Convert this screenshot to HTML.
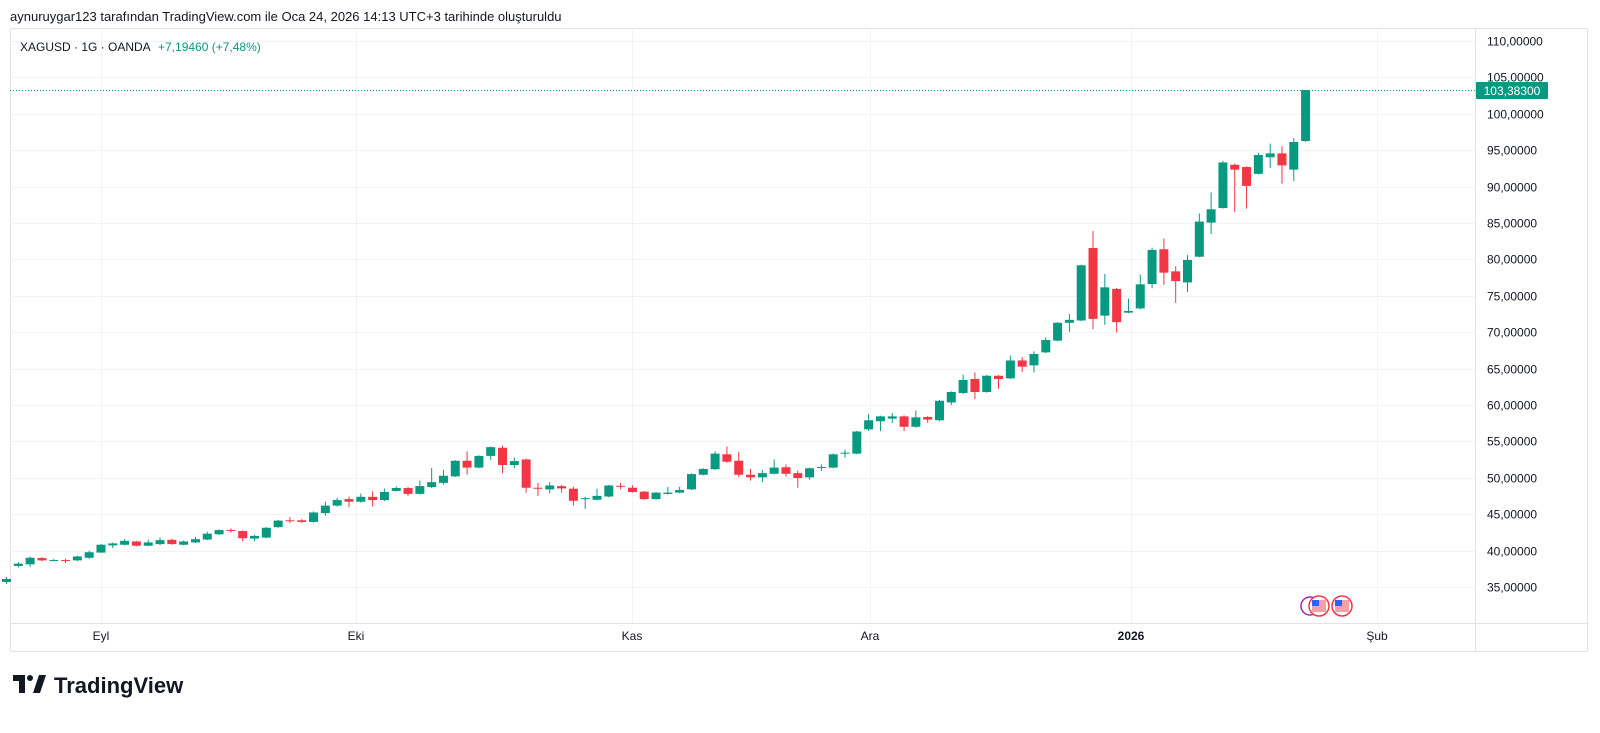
<!DOCTYPE html>
<html><head><meta charset="utf-8">
<style>
html,body{margin:0;padding:0;background:#fff;width:1600px;height:733px;overflow:hidden}
svg{display:block}
text{font-family:"Liberation Sans",sans-serif}
</style></head>
<body>
<svg id="s" width="1600" height="733" viewBox="0 0 1600 733" xmlns="http://www.w3.org/2000/svg">
<rect x="0" y="0" width="1600" height="733" fill="#fff"/>
<text x="10" y="21" font-size="13" fill="#131722">aynuruygar123 tarafından TradingView.com ile Oca 24, 2026 14:13 UTC+3 tarihinde oluşturuldu</text>
<rect x="10.5" y="28.5" width="1577" height="623" fill="none" stroke="#e0e3eb"/>
<line x1="1475.5" y1="28" x2="1475.5" y2="652" stroke="#e0e3eb"/>
<line x1="10" y1="623.5" x2="1588" y2="623.5" stroke="#e0e3eb"/>
<g id="grid"></g>
<g id="candles"></g>
<line x1="10" y1="90.5" x2="1475" y2="90.5" stroke="#089981" stroke-dasharray="1,2"/>
<text x="20" y="51" font-size="12" fill="#131722">XAGUSD · 1G · OANDA</text>
<text x="158" y="51" font-size="12" fill="#089981">+7,19460 (+7,48%)</text>
<g id="axis" font-size="12" fill="#131722"></g>
<rect x="1476" y="82" width="72" height="17" fill="#089981" rx="1"/>
<text x="1512" y="95" font-size="12" fill="#fff" text-anchor="middle">103,38300</text>
<g font-size="12" fill="#131722" text-anchor="middle">
<text x="101" y="640">Eyl</text><text x="356" y="640">Eki</text><text x="632" y="640">Kas</text>
<text x="870" y="640">Ara</text><text x="1131" y="640" font-weight="bold">2026</text><text x="1377" y="640">Şub</text>
</g>
<g>
<circle cx="1310" cy="606" r="9" fill="#fff" stroke="#9c27b0" stroke-width="1.5"/>
<circle cx="1319" cy="606" r="10" fill="#fff" stroke="#f23645" stroke-width="1.5"/>
<rect x="1312" y="600" width="14" height="12" fill="#f7a0a8"/><rect x="1312" y="600" width="7" height="6" fill="#2962ff"/>
<circle cx="1342" cy="606" r="10" fill="#fff" stroke="#f23645" stroke-width="1.5"/>
<rect x="1335" y="600" width="14" height="12" fill="#f7a0a8"/><rect x="1335" y="600" width="7" height="6" fill="#2962ff"/>
</g>
<g transform="translate(13,675)">
<path d="M0 0 H12 V18 H6 V6 H0 Z" fill="#131722"/>
<circle cx="17" cy="3" r="3" fill="#131722"/>
<path d="M20 18 L26 0 H33 L27 18 Z" fill="#131722"/>
</g>
<text x="54" y="693" font-size="22" font-weight="bold" fill="#131722">TradingView</text>
</svg>
<script>
var NS="http://www.w3.org/2000/svg";
function el(p,t,a){var e=document.createElementNS(NS,t);for(var k in a)e.setAttribute(k,a[k]);p.appendChild(e);return e;}
var grid=document.getElementById('grid'),axis=document.getElementById('axis'),cg=document.getElementById('candles');
function py(p){return 41+(110-p)*7.28;}
for(var p=35;p<=110;p+=5){var y=Math.round(py(p))+0.5;el(grid,'line',{x1:10,y1:y,x2:1475,y2:y,stroke:'#f0f3fa'});
var t=el(axis,'text',{x:1487,y:y+4});t.textContent=p.toFixed(5).replace('.',',');}
[101,356,632,870,1131,1377].forEach(function(x){el(grid,'line',{x1:x+0.5,y1:28,x2:x+0.5,y2:623,stroke:'#f0f3fa'});});
function f1(z){return 550.6+(z-430)*0.326;}
function f2(z){return 478+(z-325)*0.325;}
function f3(z){return 405+(z-580)*0.325;}
function f4(z){return 90+(z-35)*0.325;}
var z1=[[477,470,465,482],[472,452,448,480],[453,460,450,463],[461,459,456,463],[459,461,455,468],[460,448,446,462],[452,435,430,455],[436,412,410,437],[414,408,405,422],[412,400,395,414],[402,415,400,417],[415,405,397,417],[410,398,390,413],[397,410,394,412],[412,402,399,414],[405,395,388,407],[396,378,372,398],[380,367,365,382],[367,370,362,375],[370,392,368,402],[393,385,382,400],[390,360,358,392],[358,338,336,360],[337,340,327,345],[337,342,333,345],[342,313,310,344],[315,292,280,323],[292,275,268,295],[272,280,265,297],[280,265,255,283],[265,275,248,295],[275,250,240,278],[247,238,233,249],[238,256,235,262],[256,232,215,258],[235,220,177,238]];
var z2=[[340,318,300,345],[320,272,270,322],[272,293,243,315],[293,257,255,295],[257,230,228,269],[232,285,225,310],[285,273,262,295],[268,355,265,370],[355,357,340,380],[360,348,337,372],[350,357,347,370],[358,395,352,410],[389,387,383,420],[392,380,358,394],[382,348,346,384],[349,352,340,360],[355,368,347,370],[367,390,365,392],[390,370,368,392],[374,370,352,376],[370,362,352,372],[360,313,311,362],[315,297,295,317],[298,250,243,300],[252,275,228,278],[272,315,245,322],[315,323,297,333],[323,310,300,338],[312,293,268,314],[292,312,283,320],[310,325,302,355],[323,295,293,330],[293,291,283,303],[293,252,250,295],[250,247,238,262],[250,182,180,252]];
var z3=[[655,627,607,660],[630,615,613,660],[622,615,605,635],[615,647,612,660],[647,618,597,650],[617,625,614,635],[627,567,565,630],[572,540,538,580],[543,503,487,546],[500,540,480,562],[540,490,488,542],[490,500,488,530],[498,443,428,500],[443,462,433,478],[458,423,415,480],[418,380,372,420],[382,327,325,384],[327,318,300,355],[320,150,148,322],[97,315,45,347],[305,218,177,333],[223,325,220,357]];
var z4=[[720,715,677,722],[707,633,603,710],[632,527,520,645],[525,597,492,635],[593,623,577,690],[627,558,543,657],[548,440,415,550],[443,402,350,478],[398,258,253,400],[265,280,262,410],[272,330,270,400],[293,235,228,295],[242,230,200,275],[230,267,208,323],[280,195,183,315]];
var all=[[582,579,577,584]];
z1.forEach(function(c){all.push(c.map(f1));});
z2.forEach(function(c){all.push(c.map(f2));});
z3.forEach(function(c){all.push(c.map(f3));});
z4.forEach(function(c){all.push(c.map(f4));});
all.push([141,90,90,142]);
var n=all.length,step=11.81,lastX=1305.6;
all.forEach(function(c,i){
 var x=lastX-(n-1-i)*step;
 var o=c[0],cl=c[1],h=Math.min(c[2],o,cl),l=Math.max(c[3],o,cl);
 var col=cl<=o?'#089981':'#F23645';
 el(cg,'line',{x1:x,y1:h,x2:x,y2:l,stroke:col,'stroke-width':1});
 var top=Math.min(o,cl),ht=Math.max(1,Math.abs(o-cl));
 el(cg,'rect',{x:x-4.5,y:top,width:9,height:ht,fill:col});
});
</script>
</body></html>
